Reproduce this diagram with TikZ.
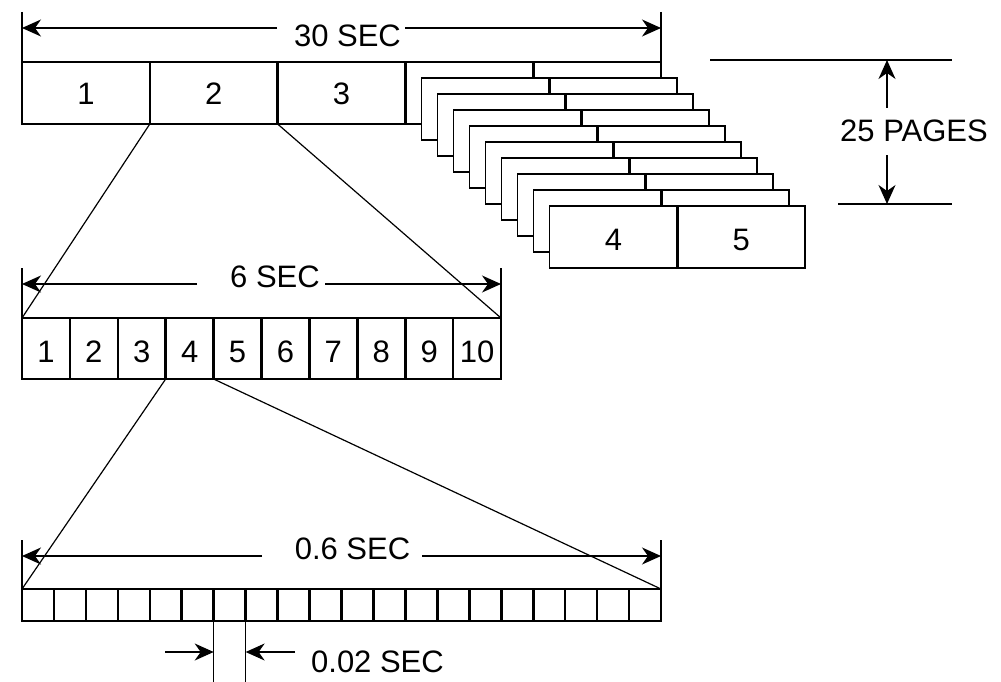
\documentclass[tikz,border=0pt]{standalone}
\usepackage{fontspec}
\setmainfont{Liberation Sans}
\usetikzlibrary{arrows.meta}
\begin{document}
\begin{tikzpicture}[x=1pt,y=-1pt,
  outline/.style={line width=1.3pt},
  divider/.style={line width=2.6pt},
  thinline/.style={line width=1.2pt},
  dimarrow/.style={line width=1.2pt,-{Stealth[length=19pt,width=17pt,inset=6pt]}},
  lbl/.style={anchor=base,inner sep=0pt,font=\fontsize{31}{31}\selectfont},
]
\useasboundingbox (0,0) rectangle (1001,682);

% ---------- top row (30 SEC) ----------
\draw[outline] (22,62) rectangle (661,124);
\foreach \x in {149.8,277.6,405.4,533.2} \draw[divider] (\x,62) -- (\x,124);
\foreach \i/\x in {1/86,2/213.7,3/341.5} \node[lbl] (top\i) at (\x,105) {\i};

% stacked pages
\foreach \k in {1,...,9} {
  \pgfmathsetmacro\l{405.4+16*\k}
  \pgfmathsetmacro\t{62+16*\k}
  \filldraw[fill=white,outline] (\l,\t) rectangle ++(255.6,62);
  \draw[divider] (\l+127.8,\t) -- ++(0,62);
}
\node[lbl] (page4) at (613.5,250) {4};
\node[lbl] (page5) at (741.3,250) {5};

% 30 SEC dimension
\coordinate (t30a) at (22,12);  \coordinate (t30b) at (22,62);
\coordinate (t30c) at (661,12); \coordinate (t30d) at (661,62);
\draw[thinline] (t30a) -- (t30b);
\draw[thinline] (t30c) -- (t30d);
\coordinate (a30L) at (22,28);  \coordinate (g30L) at (277,28);
\coordinate (a30R) at (661,28); \coordinate (g30R) at (405,28);
\draw[dimarrow] (g30L) -- (a30L);
\draw[dimarrow] (g30R) -- (a30R);
\node[lbl] (l30) at (347.5,47) {30 SEC};

% 25 PAGES dimension
\coordinate (p25a) at (710,60);  \coordinate (p25b) at (952,60);
\coordinate (p25c) at (838,204); \coordinate (p25d) at (952,204);
\draw[thinline] (p25a) -- (p25b);
\draw[thinline] (p25c) -- (p25d);
\coordinate (p25up) at (887,108);   \coordinate (p25top) at (887,60);
\coordinate (p25dn) at (887,155);   \coordinate (p25bot) at (887,204);
\draw[dimarrow] (p25up) -- (p25top);
\draw[dimarrow] (p25dn) -- (p25bot);
\node[lbl] (l25) at (914,142) {25 PAGES};

% ---------- middle row (6 SEC) ----------
\draw[outline] (22,318) rectangle (501,379);
\foreach \i in {1,...,9} \draw[divider] (22+47.9*\i,318) -- (22+47.9*\i,379);
\foreach \i in {1,...,10} \node[lbl] (mid\i) at (22+47.9*\i-23.95,362) {\i};

\coordinate (b2L) at (149.8,124); \coordinate (b2R) at (277.6,124);
\coordinate (m0) at (22,318);     \coordinate (m10) at (501,318);
\draw[thinline] (b2L) -- (m0);
\draw[thinline] (b2R) -- (m10);

\coordinate (t6a) at (22,268);  \coordinate (t6c) at (501,268);
\draw[thinline] (t6a) -- (m0);
\draw[thinline] (t6c) -- (m10);
\coordinate (a6L) at (22,284);  \coordinate (g6L) at (197,284);
\coordinate (a6R) at (501,284); \coordinate (g6R) at (325,284);
\draw[dimarrow] (g6L) -- (a6L);
\draw[dimarrow] (g6R) -- (a6R);
\node[lbl] (l6) at (275,287) {6 SEC};

% ---------- bottom row (0.6 SEC) ----------
\draw[outline] (22,589) rectangle (661,621);
\foreach \i in {1,...,19} \draw[divider] (22+31.95*\i,589) -- (22+31.95*\i,621);

\coordinate (m4L) at (165.7,379); \coordinate (m4R) at (213.6,379);
\coordinate (s0) at (22,589);     \coordinate (s20) at (661,589);
\draw[thinline] (m4L) -- (s0);
\draw[thinline] (m4R) -- (s20);

\coordinate (t06a) at (22,540); \coordinate (t06c) at (661,540);
\draw[thinline] (t06a) -- (s0);
\draw[thinline] (t06c) -- (s20);
\coordinate (a06L) at (22,556);  \coordinate (g06L) at (262,556);
\coordinate (a06R) at (661,556); \coordinate (g06R) at (422,556);
\draw[dimarrow] (g06L) -- (a06L);
\draw[dimarrow] (g06R) -- (a06R);
\node[lbl] (l06) at (352.5,559) {0.6 SEC};

% 0.02 SEC dimension
\coordinate (c7a) at (213.7,621);  \coordinate (c7b) at (213.7,682);
\coordinate (c7c) at (245.65,621); \coordinate (c7d) at (245.65,682);
\draw[thinline] (c7a) -- (c7b);
\draw[thinline] (c7c) -- (c7d);
\coordinate (q1) at (165,652);   \coordinate (q1t) at (213.7,652);
\coordinate (q2) at (295,652);   \coordinate (q2t) at (245.65,652);
\draw[dimarrow] (q1) -- (q1t);
\draw[dimarrow] (q2) -- (q2t);
\node[lbl] (l002) at (377.5,672) {0.02 SEC};
\end{tikzpicture}
\end{document}
